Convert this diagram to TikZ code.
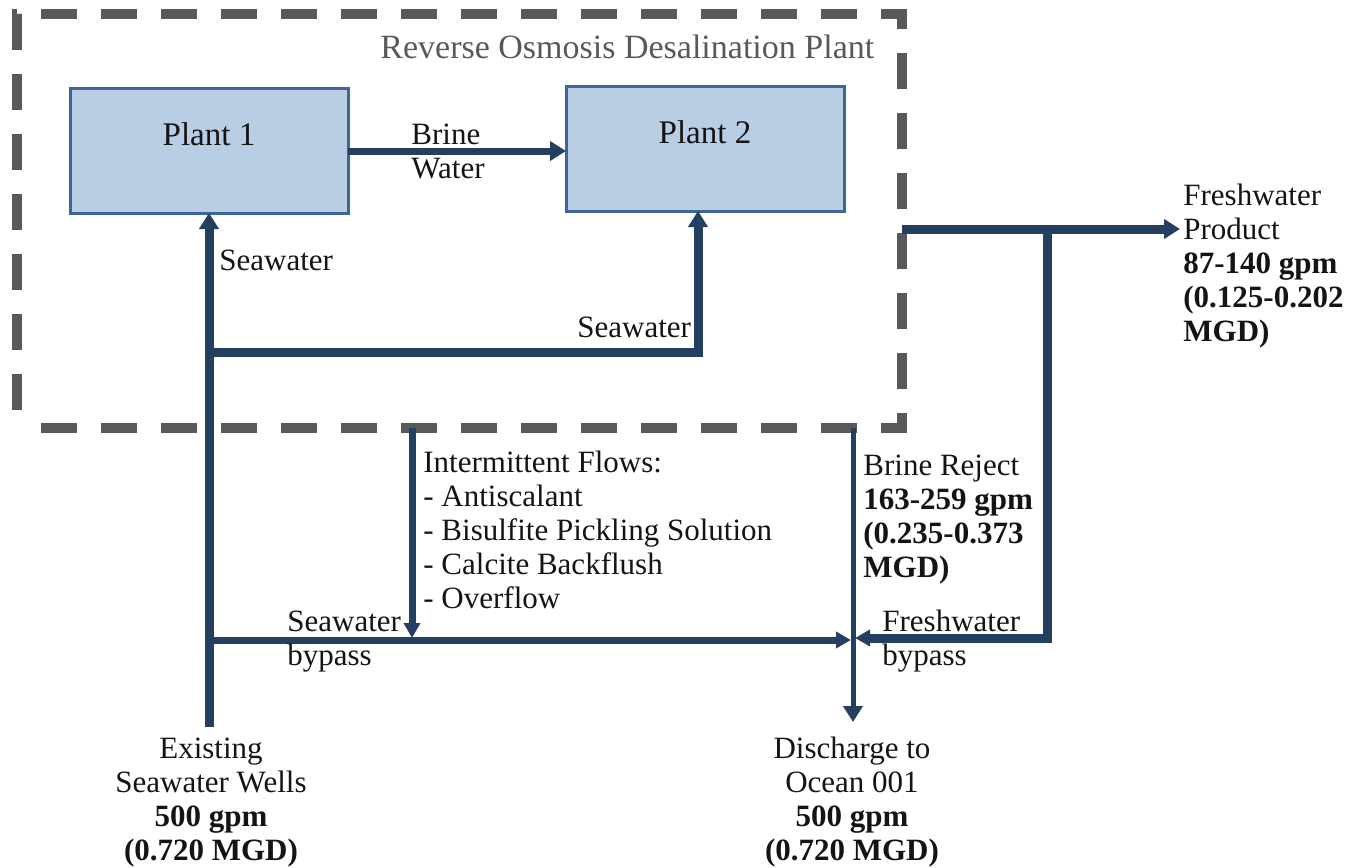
\documentclass[tikz,border=0pt]{standalone}
\usepackage{fontspec}
\setmainfont{Liberation Serif}
\usetikzlibrary{arrows.meta}

\definecolor{flow}{HTML}{243F60}
\definecolor{dashgray}{HTML}{595959}
\definecolor{plantfill}{HTML}{B9CDE5}
\definecolor{plantedge}{HTML}{3D6595}
\definecolor{ink}{HTML}{141414}

\begin{document}
\begin{tikzpicture}[x=0.5pt,y=-0.5pt,
  txt/.style={font=\fontsize{15.5pt}{17pt}\selectfont, text=ink, inner sep=0pt, align=left},
  ctxt/.style={txt, align=center},
  plant/.style={draw=plantedge, line width=1.5pt, fill=plantfill, minimum width=139pt,
    minimum height=62.5pt, inner sep=0pt, outer sep=0pt, text=ink,
    font=\fontsize{16.5pt}{18pt}\selectfont, text height=5pt, text depth=10pt},
  robox/.style={draw=dashgray, line width=5pt, dash pattern=on 18pt off 12pt, dash phase=18pt,
    minimum width=442.5pt, minimum height=207pt, inner sep=0pt, outer sep=0pt},
  heavy/.style={draw=flow, line width=4.5pt},
  medium/.style={draw=flow, line width=3.5pt},
  light/.style={draw=flow, line width=2.5pt},
  bigtip/.style={-{Triangle[length=8pt,width=9.5pt]}},
  smalltip/.style={-{Triangle[length=7.5pt,width=8pt]}}
]
\useasboundingbox (0,0) rectangle (1345,868);

% plant enclosure
\node[robox] (ro) at (459.5,221) {};
\node[anchor=base west, inner sep=0pt, text=dashgray, font=\fontsize{17pt}{19pt}\selectfont]
  (title) at (380,58) {Reverse Osmosis Desalination Plant};

% treatment trains
\node[plant] (p1) at (209,150.5) {Plant 1};
\node[plant] (p2) at (705,148.5) {Plant 2};

% boundary points and junctions
\coordinate (wells) at (209,727);
\coordinate (split) at (209,352);
\coordinate (bystart) at (209,640);
\coordinate (fwout) at (ro.east |- 0,229);
\coordinate (fwtee) at (1047,229);
\coordinate (fwend) at (1180,229);
\coordinate (fwcorner) at (1047,638);
\coordinate (fwin) at (855,638);
\coordinate (mixin) at (851,640);
\coordinate (intout) at (412,428);
\coordinate (intin) at (412,638);
\coordinate (brout) at (853,428);
\coordinate (ocean) at (853,722);

% connectors
\draw[medium, bigtip] (p1.east |- 0,151) -- (p2.west |- 0,151);
\draw[heavy, bigtip] (wells) -- (p1.south);
\draw[heavy, bigtip] (split) -| ([xshift=-3.5pt]p2.south);
\draw[heavy, bigtip] (fwout) -- (fwend);
\draw[heavy, smalltip] (fwtee) -- (fwcorner) -- (fwin);
\draw[medium, smalltip] (bystart) -- (mixin);
\draw[medium, smalltip] (intout) -- (intin);
\draw[light, bigtip] (brout) -- (ocean);

% labels (multi-line nodes are placed by the baseline of their last line)
\node[txt, anchor=base west] (brine) at (411,178) {Brine\\Water};
\node[txt, anchor=base west] (sw1) at (219,270) {Seawater};
\node[txt, anchor=base west] (sw2) at (577,337) {Seawater};
\node[txt, anchor=base west] (fwprod) at (1183,341)
  {Freshwater\\Product\\\textbf{87-140 gpm}\\\textbf{(0.125-0.202}\\\textbf{MGD)}};
\node[txt, anchor=base west] (inter) at (423,608)
  {Intermittent Flows:\\- Antiscalant\\- Bisulfite Pickling Solution\\- Calcite Backflush\\- Overflow};
\node[txt, anchor=base west] (reject) at (863,577)
  {Brine Reject\\\textbf{163-259 gpm}\\\textbf{(0.235-0.373}\\\textbf{MGD)}};
\node[txt, anchor=base west] (swby) at (287,665) {Seawater\\bypass};
\node[txt, anchor=base west] (fwby) at (882,665) {Freshwater\\bypass};
\node[ctxt, anchor=base] (wellsl) at (211,860)
  {Existing\\Seawater Wells\\\textbf{500 gpm}\\\textbf{(0.720 MGD)}};
\node[ctxt, anchor=base] (oceanl) at (852,860)
  {Discharge to\\Ocean 001\\\textbf{500 gpm}\\\textbf{(0.720 MGD)}};
\end{tikzpicture}
\end{document}
